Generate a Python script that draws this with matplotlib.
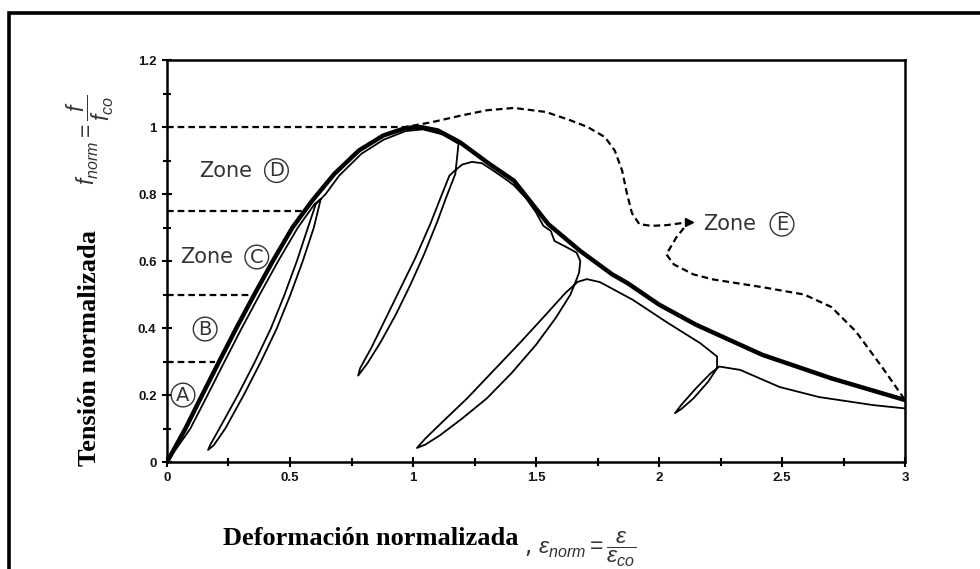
import matplotlib.pyplot as plt
import matplotlib as mpl
import matplotlib.ticker as ticker
from matplotlib.patches import Rectangle

mpl.rcParams.update({
    "font.family": "DejaVu Sans",
    "mathtext.fontset": "custom",
    "mathtext.it": "Liberation Sans:italic",
    "mathtext.rm": "Liberation Sans",
    "mathtext.bf": "Liberation Sans:bold",
})

# monotonic envelope (thick)
env_x = [0.0, 0.075, 0.143, 0.212, 0.282, 0.355, 0.43, 0.51, 0.59, 0.68, 0.78,
         0.88, 0.97, 1.03, 1.10, 1.19, 1.31, 1.41, 1.48, 1.55, 1.68, 1.81,
         1.87, 2.0, 2.15, 2.42, 2.70, 3.0]
env_y = [0.0, 0.1, 0.2, 0.3, 0.4, 0.5, 0.6, 0.7, 0.78, 0.86, 0.93,
         0.975, 0.997, 1.0, 0.99, 0.955, 0.89, 0.84, 0.775, 0.71, 0.63, 0.56,
         0.535, 0.47, 0.41, 0.32, 0.25, 0.185]

# cyclic test curve (thin), one continuous path with unload/reload loops
cyc_x = [0.0, 0.095, 0.165, 0.234, 0.304, 0.377, 0.452, 0.532, 0.60, 0.625,
         # first loop
         0.597, 0.552, 0.502, 0.447, 0.382, 0.312, 0.237, 0.19, 0.167,
         0.175, 0.213, 0.288, 0.358, 0.423, 0.478, 0.528, 0.573, 0.605, 0.645,
         0.70, 0.79, 0.88, 0.97, 1.04, 1.12, 1.185,
         # second loop
         1.172, 1.135, 1.10, 1.045, 0.99, 0.93, 0.87, 0.815, 0.777,
         0.785, 0.83, 0.89, 0.95, 1.01, 1.07, 1.11, 1.148,
         1.17, 1.20, 1.24, 1.28, 1.32, 1.37, 1.41, 1.46, 1.50, 1.53, 1.56,
         1.575, 1.62, 1.665, 1.68, 1.675, 1.662,
         # third loop
         1.64, 1.58, 1.50, 1.40, 1.30, 1.20, 1.11, 1.05, 1.016,
         1.05, 1.12, 1.22, 1.33, 1.44, 1.54, 1.62, 1.67, 1.707,
         1.76, 1.894, 2.03, 2.167, 2.236, 2.236,
         # fourth loop
         2.20, 2.14, 2.09, 2.065,
         2.09, 2.15, 2.21, 2.245,
         2.33, 2.49, 2.65, 2.87, 3.0]
cyc_y = [0.0, 0.1, 0.2, 0.3, 0.4, 0.5, 0.6, 0.7, 0.77, 0.785,
         0.70, 0.60, 0.50, 0.40, 0.30, 0.20, 0.10, 0.05, 0.036,
         0.05, 0.10, 0.20, 0.30, 0.40, 0.50, 0.60, 0.70, 0.77, 0.80,
         0.855, 0.92, 0.962, 0.988, 0.993, 0.978, 0.95,
         0.86, 0.79, 0.72, 0.62, 0.53, 0.44, 0.36, 0.295, 0.258,
         0.28, 0.34, 0.43, 0.52, 0.61, 0.71, 0.785, 0.855,
         0.87, 0.888, 0.896, 0.892, 0.873, 0.848, 0.826, 0.787, 0.745, 0.705, 0.69,
         0.66, 0.643, 0.625, 0.60, 0.565, 0.54,
         0.50, 0.43, 0.35, 0.265, 0.19, 0.13, 0.08, 0.052, 0.042,
         0.07, 0.12, 0.19, 0.275, 0.36, 0.44, 0.505, 0.538, 0.546,
         0.537, 0.484, 0.418, 0.355, 0.315, 0.28,
         0.24, 0.19, 0.158, 0.146,
         0.17, 0.22, 0.265, 0.285,
         0.275, 0.224, 0.194, 0.17, 0.16]

# zone E boundary (dashed), through the arrow point
dash_x = [0.0, 0.97, 1.08, 1.2, 1.3, 1.41, 1.54, 1.64, 1.71, 1.78, 1.82, 1.85,
          1.87, 1.89, 1.92, 1.97, 2.03, 2.12,
          2.07, 2.03, 2.06, 2.14, 2.22, 2.42, 2.59, 2.70, 2.80, 2.91, 3.0]
dash_y = [1.0, 1.0, 1.015, 1.035, 1.05, 1.057, 1.045, 1.02, 1.0, 0.97, 0.93, 0.87,
          0.80, 0.743, 0.71, 0.705, 0.707, 0.716,
          0.67, 0.62, 0.59, 0.56, 0.545, 0.522, 0.50, 0.463, 0.39, 0.28, 0.185]
arrow_pt = (2.12, 0.716)

# zone limits (horizontal dashed)
zone_levels = [0.3, 0.5, 0.75]
zone_ends = [0.195, 0.35, 0.57]

x_ticks = [0, 0.5, 1, 1.5, 2, 2.5, 3]
x_ticklabels = ["0", "0.5", "1", "1.5", "2", "2.5", "3"]
y_ticks = [0, 0.2, 0.4, 0.6, 0.8, 1.0, 1.2]
y_ticklabels = ["0", "0.2", "0.4", "0.6", "0.8", "1", "1.2"]

fig = plt.figure(figsize=(9.8, 5.69), dpi=100)
ax = fig.add_axes([0.1704, 0.188, 0.7531, 0.7065])

dash = (0, (3, 1.8))
ax.plot(dash_x, dash_y, color="black", lw=1.6, ls=dash)
ax.plot(*arrow_pt, marker=">", ms=6, color="black")
for lvl, xe in zip(zone_levels, zone_ends):
    ax.plot([0, xe], [lvl, lvl], color="black", lw=1.6, ls=dash)

ax.plot(cyc_x, cyc_y, color="black", lw=1.3, solid_joinstyle="round")
ax.plot(env_x, env_y, color="black", lw=3.2, solid_joinstyle="round",
        solid_capstyle="round")

ax.set_xlim(0, 3)
ax.set_ylim(0, 1.2)
ax.set_xticks(x_ticks)
ax.set_xticklabels(x_ticklabels)
ax.set_yticks(y_ticks)
ax.set_yticklabels(y_ticklabels)
ax.xaxis.set_minor_locator(ticker.MultipleLocator(0.25))
ax.yaxis.set_minor_locator(ticker.MultipleLocator(0.1))
ax.tick_params(which="major", direction="inout", length=7, width=1.5,
               pad=4, labelsize=9.5, labelcolor="#151515")
ax.tick_params(which="minor", direction="inout", length=6, width=1.5)
for lab in ax.get_xticklabels() + ax.get_yticklabels():
    lab.set_fontweight("bold")
    lab.set_family("Liberation Sans")
for sp in ax.spines.values():
    sp.set_linewidth(1.8)

# zone labels
zkw = dict(fontsize=15, color="#333333", va="center")
ckw = dict(fontsize=14, color="#333333", va="center", ha="center",
           bbox=dict(boxstyle="circle,pad=0.12", fc="white", ec="#333333", lw=1.0))
ax.text(0.13, 0.87, "Zone", **zkw)
ax.text(0.445, 0.87, "D", **ckw)
ax.text(0.052, 0.612, "Zone", **zkw)
ax.text(0.365, 0.612, "C", **ckw)
ax.text(0.155, 0.397, "B", **ckw)
ax.text(0.065, 0.2, "A", **ckw)
ax.text(2.18, 0.71, "Zone", **zkw)
ax.text(2.50, 0.71, "E", **ckw)

# axis titles
fig.text(90 / 980, 1 - 348 / 569, "Tensión normalizada", rotation=90,
         family="Liberation Serif", weight="bold", fontsize=19,
         ha="center", va="center")
fig.text(90 / 980, 1 - 140 / 569, r"$f_{norm}=\dfrac{f}{f_{co}}$", rotation=90,
         fontsize=16.5, color="#333333", ha="center", va="center")
fig.text(223 / 980, 1 - 545 / 569, "Deformación normalizada",
         family="Liberation Serif", weight="bold", fontsize=19,
         ha="left", va="baseline")
fig.text(524 / 980, 1 - 549 / 569,
         r", $\varepsilon_{norm}=\dfrac{\varepsilon}{\varepsilon_{co}}$",
         fontsize=16.5, color="#333333", ha="left", va="center")

# outer frame
fig.add_artist(Rectangle((9 / 980, -0.1), 1.2, 1.1 - 13 / 569,
                         transform=fig.transFigure, fill=False,
                         ec="black", lw=2.6, clip_on=False))

fig.savefig("out.png", dpi=100)
